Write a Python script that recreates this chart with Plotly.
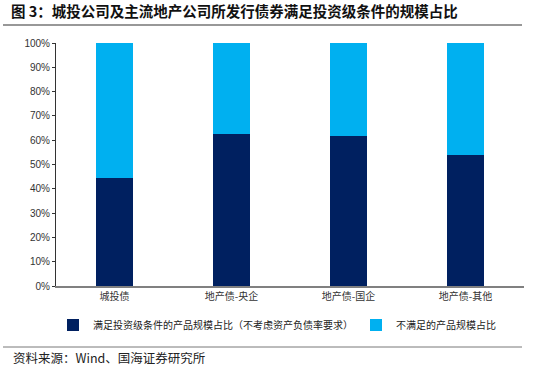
import plotly.graph_objects as go

categories = ["城投债", "地产债-央企", "地产债-国企", "地产债-其他"]
meet_share = [44.4, 62.6, 61.7, 53.9]
not_meet_share = [55.6, 37.4, 38.3, 46.1]
series_names = ["满足投资级条件的产品规模占比（不考虑资产负债率要求）", "不满足的产品规模占比"]
y_ticks = [0, 10, 20, 30, 40, 50, 60, 70, 80, 90, 100]
y_tick_labels = ["0%", "10%", "20%", "30%", "40%", "50%", "60%", "70%", "80%", "90%", "100%"]

W, H = 550, 367
OFF = 0  # body margin removed via post_script
L = 56 - OFF
T = 43 - OFF
R = W - (524 - OFF)
B = H - (286 - OFF)
pw = W - L - R
ph = H - T - B

def px_x(p):
    return (p - OFF - L) / pw

def px_y(p):
    return (H - B - (p - OFF)) / ph

def cx(p):
    return (p - OFF) / W

def cy(p):
    return (H - (p - OFF)) / H

cjk = "Noto Sans CJK SC"

fig = go.Figure()
fig.add_trace(go.Bar(x=categories, y=meet_share, name=series_names[0], legend="legend",
                     marker=dict(color="#002060", line=dict(width=0)), width=0.31))
fig.add_trace(go.Bar(x=categories, y=not_meet_share, name=series_names[1], legend="legend2",
                     marker=dict(color="#00B0F0", line=dict(width=0)), width=0.31))

legend_common = dict(orientation="h", xref="container", yref="container",
                     yanchor="middle", xanchor="left",
                     font=dict(family=cjk, size=10, color="#222222"),
                     itemwidth=30, bgcolor="rgba(0,0,0,0)")

fig.update_layout(
    barmode="stack",
    width=W, height=H,
    margin=dict(l=L, r=R, t=T, b=B, pad=0, autoexpand=False),
    plot_bgcolor="white", paper_bgcolor="white",
    font=dict(family=cjk, size=10, color="#333333"),
    showlegend=True,
    legend=dict(x=cx(53), y=cy(325), **legend_common),
    legend2=dict(x=cx(356), y=cy(325), **legend_common),
    xaxis=dict(showline=True, linecolor="#808080", linewidth=1.5, ticks="",
               tickfont=dict(family=cjk, size=10, color="#333333"), showgrid=False),
    yaxis=dict(range=[0, 100], tickvals=y_ticks, ticktext=y_tick_labels, showline=True,
               linecolor="#333333", linewidth=1, ticks="outside", ticklen=3,
               tickcolor="#333333", showgrid=False, zeroline=False,
               tickfont=dict(family="Liberation Sans", size=10, color="#333333")),
    bargap=0.69,
)

fig.add_annotation(text="<b>图 3：城投公司及主流地产公司所发行债券满足投资级条件的规模占比</b>",
                   xref="paper", yref="paper", x=px_x(9), y=px_y(11),
                   xanchor="left", yanchor="middle", showarrow=False,
                   font=dict(family=cjk, size=14.5, color="#111111"))
fig.add_annotation(text="资料来源：Wind、国海证券研究所",
                   xref="paper", yref="paper", x=px_x(11), y=px_y(357),
                   xanchor="left", yanchor="middle", showarrow=False,
                   font=dict(family=cjk, size=12.5, color="#222222"))
fig.add_shape(type="line", xref="paper", yref="paper",
              x0=px_x(3), x1=px_x(522), y0=px_y(25), y1=px_y(25),
              line=dict(color="#333333", width=1.2))
fig.add_shape(type="line", xref="paper", yref="paper",
              x0=px_x(3), x1=px_x(522), y0=px_y(347), y1=px_y(347),
              line=dict(color="#555555", width=0.8))

fig.write_html("out.html",
               config={"displayModeBar": False},
               post_script="document.body.style.margin='0';document.body.style.overflow='hidden';")
